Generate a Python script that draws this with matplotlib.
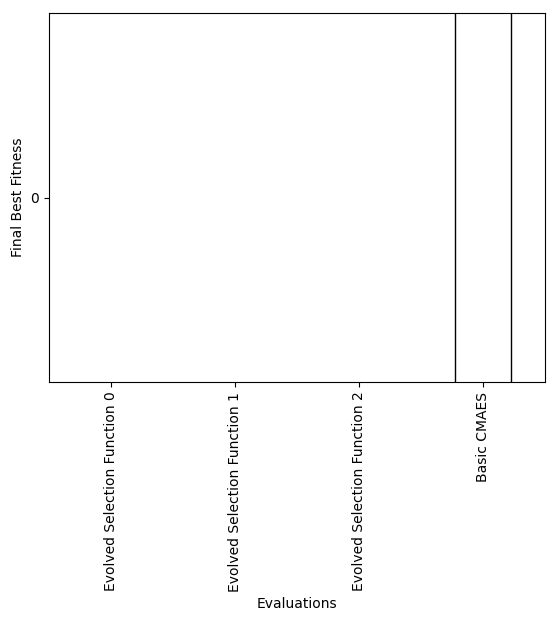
import matplotlib
matplotlib.use("Agg")
import matplotlib.pyplot as plt

# categories and the spread of final best fitness per selection function
# (the evolved functions have no finite values to draw)
nan = float("nan")
categories = ["Evolved Selection Function 0", "Evolved Selection Function 1",
              "Evolved Selection Function 2", "Basic CMAES"]
box_low = [nan, nan, nan, -1e6]
box_high = [nan, nan, nan, 1e6]

fig = plt.figure(figsize=(5.58, 6.23), dpi=100)
ax = fig.add_axes([0.0878, 0.3868, 0.8889, 0.5923])

xlocs = list(range(len(categories)))
heights = [h - l for l, h in zip(box_low, box_high)]
ax.bar(xlocs, heights, bottom=box_low, width=0.45,
       facecolor="none", edgecolor="black", linewidth=1.0)

ax.set_xlim(-0.5, len(categories) - 0.5)
ax.set_ylim(-1, 1)
ax.set_yticks([0])
ax.set_yticklabels(["0"])
ax.set_xticks(xlocs)
ax.set_xticklabels(categories, rotation=90)
ax.set_xlabel("Evaluations")
ax.set_ylabel("Final Best Fitness")

fig.savefig("out.png", dpi=100)
